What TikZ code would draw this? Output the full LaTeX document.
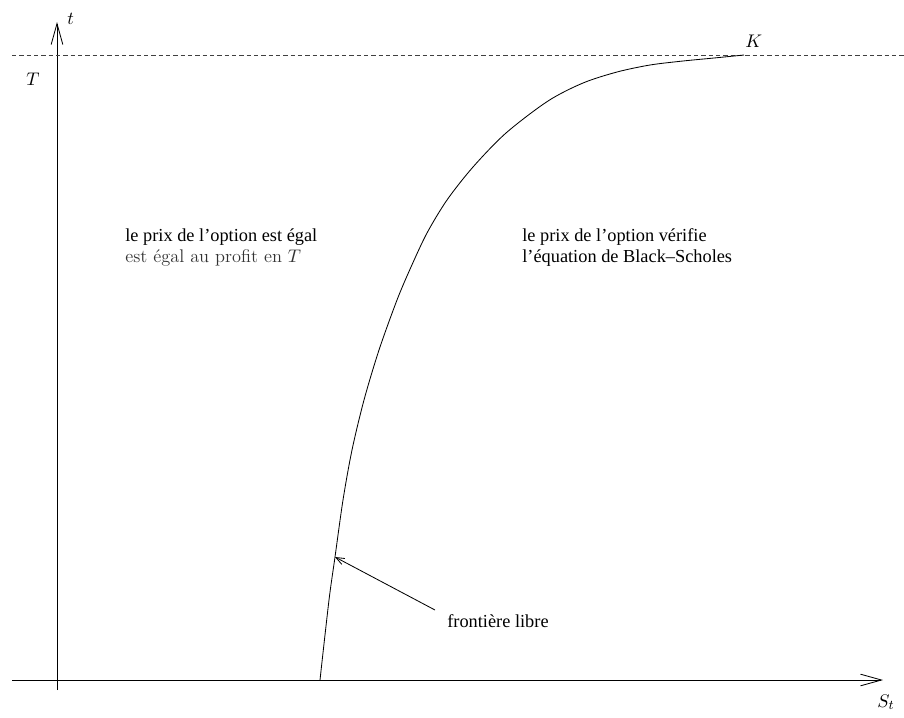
\documentclass[tikz,border=0pt]{standalone}
\usepackage{fontspec}
\newfontfamily\tms{Liberation Serif}
\usetikzlibrary{arrows.meta}
\begin{document}
\begin{tikzpicture}[x=0.6pt,y=-0.6pt,
  axis/.style={line width=0.5pt,-{Straight Barb[length=12.6pt,width=7pt,line width=0.5pt]}},
  ptr/.style={line width=0.5pt,-{Straight Barb[length=5pt,width=4pt,line width=0.5pt]}},
  lbl/.style={inner sep=0pt,anchor=base west,font=\fontsize{11}{13}\tms},
  cmlbl/.style={inner sep=0pt,anchor=base west,font=\fontsize{11}{13}\selectfont}]
\useasboundingbox (0,0) rectangle (904,717);
% axes
\coordinate (ob) at (57,690); \coordinate (ot) at (57,22);
\coordinate (xl) at (12,680); \coordinate (xr) at (883,680);
\coordinate (dl) at (12,55); \coordinate (dr) at (904,55);
\draw[axis] (ob) -- (ot);
\draw[axis] (xl) -- (xr);
\draw[line width=0.5pt,black!75,dash pattern=on 2.6pt off 1.8pt] (dl) -- (dr);
% free boundary curve
\draw[line width=0.5pt] plot[smooth,tension=0.5] coordinates {(320,680) (329,600) (335,557) (343,500) (352,450) (364,400) (379,350) (397,300) (411,267) (427,233) (447,200) (473,167) (506,133) (548,101) (583,83) (617,72) (650,65) (683,61) (714,58) (744,55)};
% labels
\node[cmlbl] (lt) at (67,24) {$t$};
\node[cmlbl] (lT) at (26,85) {$T$};
\node[cmlbl] (lK) at (745,47) {$K$};
\node[cmlbl] (lS) at (877,707) {$S_t$};
\node[lbl] (l1) at (125,241) {le prix de l’option est égal};
\node[cmlbl,text=black!80] (l2) at (125,262) {est égal au profit en $T$};
\node[lbl] (r1) at (522,241) {le prix de l’option vérifie};
\node[lbl] (r2) at (522,262) {l’équation de Black–Scholes};
\node[lbl] (fl) at (447,627) {frontière libre};
\coordinate (fs) at (435,610);
\coordinate (fp) at (335,557);
\draw[ptr] (fs) -- (fp);
\end{tikzpicture}
\end{document}
